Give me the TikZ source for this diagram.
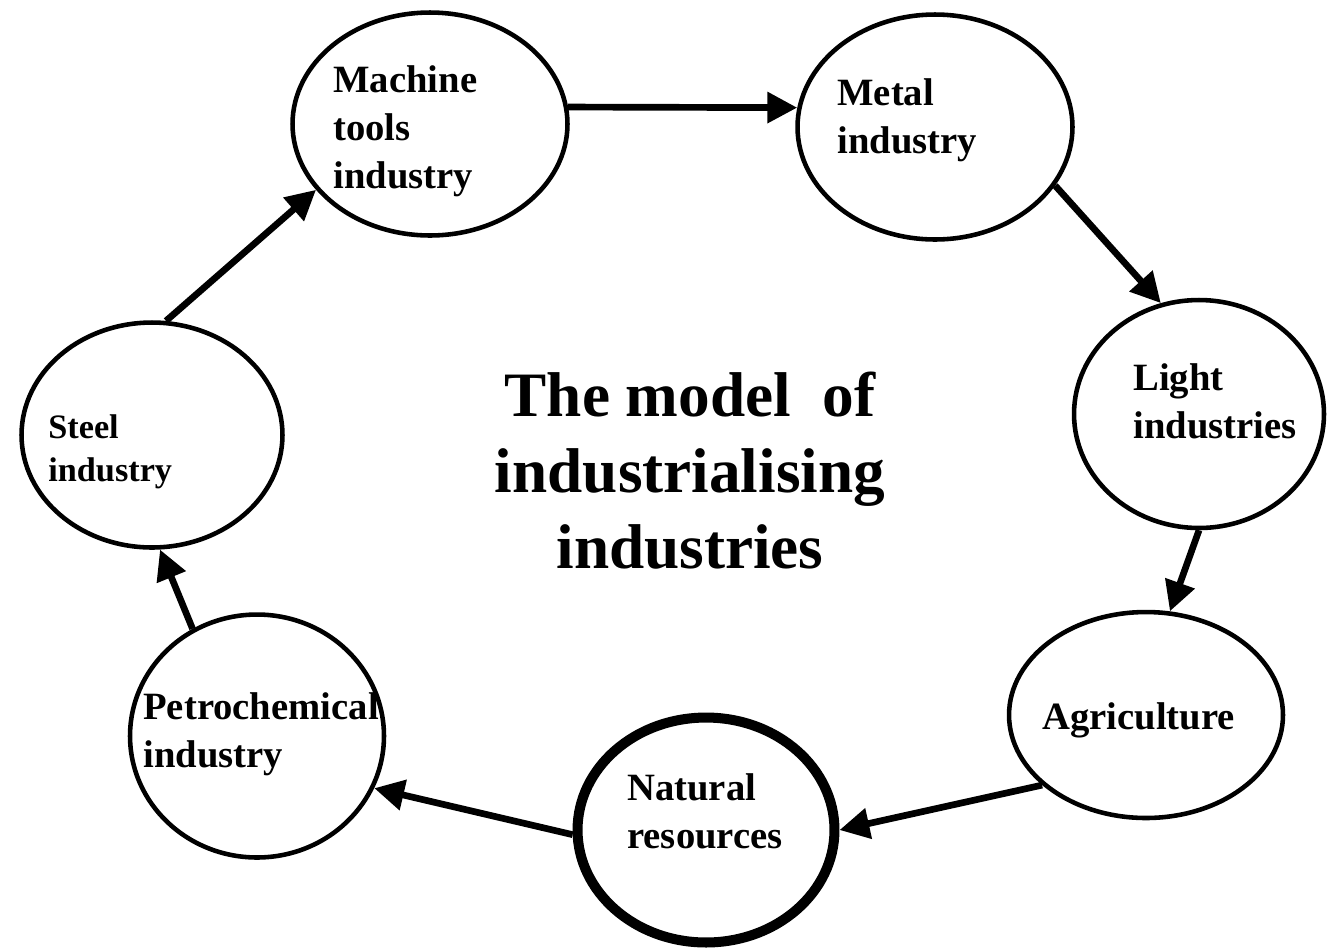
\documentclass[tikz,border=0pt]{standalone}
\usepackage{fontspec}
\setmainfont{Liberation Serif}
\usetikzlibrary{arrows.meta,shapes.geometric}

\tikzset{
  sector/.style={ellipse, draw, line width=2.6pt, inner sep=0pt},
  tag/.style={anchor=north west, inner sep=0pt, align=left,
    font=\bfseries\fontsize{22}{27.3}\selectfont},
  flow/.style={line width=3.8pt, -{Triangle[length=17pt,width=17pt]}},
}

\begin{document}
\begin{tikzpicture}[x=0.02cm, y=-0.02cm]
\useasboundingbox (0,0) rectangle (1327,951);

% the sectors
\node[sector, minimum width=5.50cm, minimum height=4.46cm] (machine) at (430,124) {};
\node[sector, minimum width=5.50cm, minimum height=4.50cm] (metal) at (935,127) {};
\node[sector, minimum width=5.00cm, minimum height=4.56cm] (light) at (1199,414) {};
\node[sector, minimum width=5.48cm, minimum height=4.12cm] (agri) at (1146,715) {};
\node[sector, line width=5.7pt, minimum width=5.14cm, minimum height=4.50cm] (natural) at (706,830) {};
\node[sector, minimum width=5.08cm, minimum height=4.86cm] (petro) at (257,736) {};
\node[sector, minimum width=5.22cm, minimum height=4.50cm] (steel) at (152,435) {};

% their names
\node[tag] (machinetxt) at (333,65) {Machine\\tools\\industry};
\node[tag] (metaltxt) at (837,78) {Metal\\industry};
\node[tag] (lighttxt) at (1133,363) {Light\\industries};
\node[tag] (agritxt) at (1042,702) {Agriculture};
\node[tag] (naturaltxt) at (627,773) {Natural\\resources};
\node[tag] (petrotxt) at (143,692) {Petrochemical\\industry};
\node[tag, font=\bfseries\fontsize{19.5}{24.5}\selectfont] (steeltxt) at (48,414) {Steel\\industry};

\node[anchor=north, inner sep=0pt, align=center,
  font=\bfseries\fontsize{36}{43}\selectfont] (title) at (690,372)
  {The model \ of\\industrialising\\industries};

% the chain
\draw[flow] (machine.7) -- (metal.172);
\draw[flow] (metal.-26) -- (light.109);
\draw[flow] (light.-90) -- (agri.77);
\draw[flow] (agri.214) -- (natural.0);
\draw[flow] (natural.182) -- (petro.-24);
\draw[flow] (petro.121) -- (steel.-86);
\draw[flow] (steel.83) -- (machine.210);

\end{tikzpicture}
\end{document}
